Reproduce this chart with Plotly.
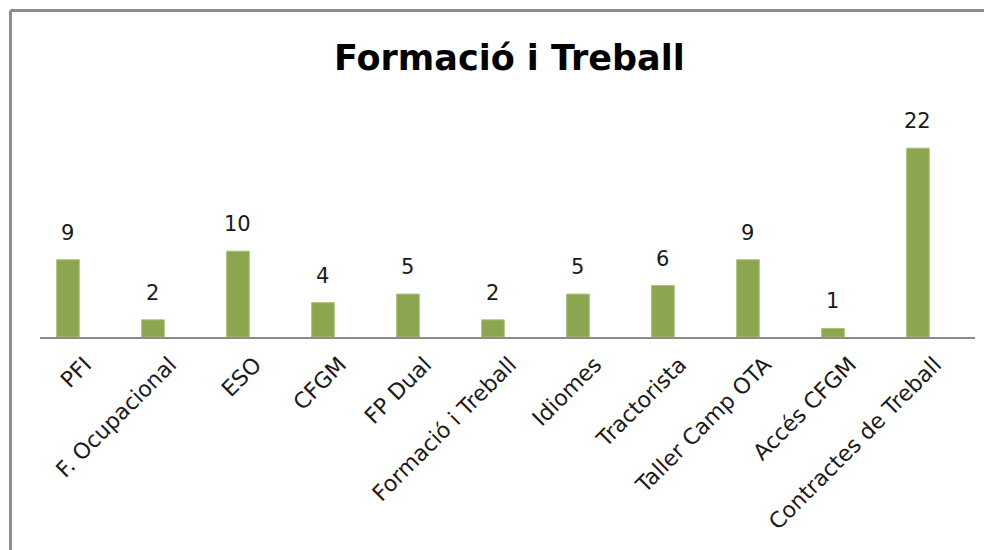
import plotly.graph_objects as go

categories = ["PFI", "F. Ocupacional", "ESO", "CFGM", "FP Dual", "Formació i Treball",
              "Idiomes", "Tractorista", "Taller Camp OTA", "Accés CFGM", "Contractes de Treball"]
values = [9, 2, 10, 4, 5, 2, 5, 6, 9, 1, 22]
title_text = "Formació i Treball"

# page body has an 8px margin, so figure coords = reference coords - 8
OFF = 8
W, H = 984, 542
ML, MR, MT, MB = 40 - OFF, 17, 131 - OFF, 213
PW = W - ML - MR
PH = H - MT - MB

def xp(px):
    return (px - OFF - ML) / PW

def yp(py):
    return (H - MB - (py - OFF)) / PH

BAR = "#8ba64f"
FONT = "DejaVu Sans"
TXT = "#1a1a1a"

fig = go.Figure()
fig.add_trace(go.Bar(
    x=categories, y=values, marker=dict(color=BAR, line=dict(color="#a9c077", width=1)),
    width=0.266, hoverinfo="skip",
))

for c, v in zip(categories, values):
    fig.add_annotation(x=c, y=v, xref="x", yref="y", text=str(v), showarrow=False,
                       yanchor="middle", yshift=27,
                       font=dict(family=FONT, size=21, color=TXT))

fig.add_annotation(x=xp(509), y=yp(58), xref="paper", yref="paper", text="<b>" + title_text + "</b>",
                   showarrow=False, xanchor="center", yanchor="middle",
                   font=dict(family=FONT, size=35, color="#000000"))

# outer chart frame
fig.add_shape(type="line", xref="paper", yref="paper", x0=xp(10.5), x1=xp(1010), y0=yp(10.5), y1=yp(10.5),
              line=dict(color="#8c8c8c", width=3))
fig.add_shape(type="line", xref="paper", yref="paper", x0=xp(10.5), x1=xp(10.5), y0=yp(10.5), y1=yp(570),
              line=dict(color="#8c8c8c", width=3))

fig.update_layout(
    width=W, height=H,
    margin=dict(l=ML, r=MR, t=MT, b=MB, autoexpand=False),
    paper_bgcolor="white", plot_bgcolor="white",
    showlegend=False,
    xaxis=dict(type="category", range=[-0.329, 10.671], tickangle=-45,
               showline=True, linecolor="#8c8c8c", linewidth=2, ticks="",
               showgrid=False, zeroline=False,
               tickfont=dict(family=FONT, size=22, color=TXT),
               ticklabelstandoff=4, ticklabelshift=17),
    yaxis=dict(range=[0, 24], visible=False, showgrid=False, zeroline=False),
)

fig.write_html("out.html")
